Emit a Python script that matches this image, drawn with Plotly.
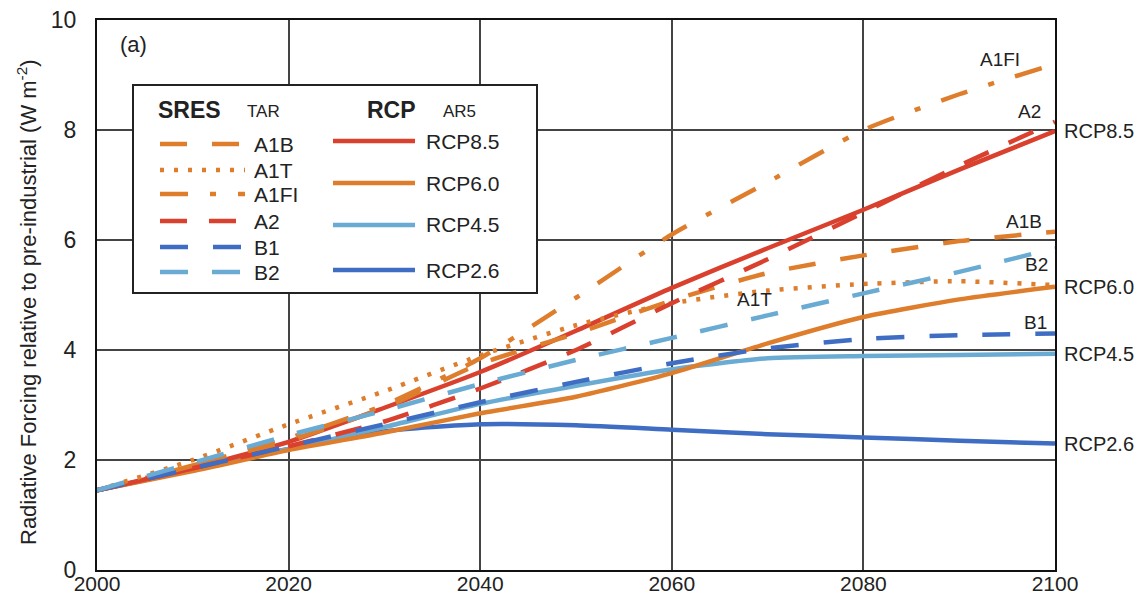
import plotly.graph_objects as go

years = [2000, 2010, 2020, 2030, 2040, 2050, 2060, 2070, 2080, 2090, 2100]

# SRES scenarios (TAR)
a1b  = [1.45, 1.90, 2.35, 2.95, 3.75, 4.30, 4.90, 5.40, 5.72, 5.98, 6.15]
a1t  = [1.45, 2.00, 2.65, 3.25, 3.90, 4.45, 4.85, 5.08, 5.20, 5.25, 5.18]
a1fi = [1.45, 1.90, 2.40, 3.00, 3.85, 4.95, 6.10, 7.05, 8.00, 8.65, 9.20]
a2   = [1.45, 1.85, 2.25, 2.70, 3.30, 4.00, 4.85, 5.65, 6.50, 7.35, 8.15]
b1   = [1.45, 1.85, 2.25, 2.65, 3.05, 3.42, 3.76, 4.03, 4.20, 4.27, 4.30]
b2   = [1.45, 1.95, 2.45, 2.90, 3.38, 3.82, 4.22, 4.63, 5.03, 5.42, 5.85]

# RCP scenarios (AR5)
rcp85 = [1.45, 1.85, 2.33, 2.95, 3.60, 4.35, 5.13, 5.85, 6.55, 7.28, 7.98]
rcp60 = [1.45, 1.80, 2.18, 2.50, 2.85, 3.15, 3.58, 4.12, 4.60, 4.92, 5.15]
rcp45 = [1.45, 1.82, 2.20, 2.60, 3.02, 3.35, 3.65, 3.85, 3.89, 3.91, 3.93]
rcp26 = [1.45, 1.82, 2.20, 2.52, 2.65, 2.63, 2.55, 2.47, 2.41, 2.35, 2.30]

sres_names = ["A1B", "A1T", "A1FI", "A2", "B1", "B2"]
rcp_names = ["RCP8.5", "RCP6.0", "RCP4.5", "RCP2.6"]
x_ticks = [2000, 2020, 2040, 2060, 2080, 2100]
y_ticks = [0, 2, 4, 6, 8, 10]

RED = "#d9402d"
ORANGE = "#de7d2c"
LBLUE = "#6aabd4"
DBLUE = "#3f6dc3"

LW = 4.5
dash_a1b = "27px,25px"
dash_a1t = "4px,10px"
dash_a1fi = "28px,22px,6px,22px"
dash_a2 = "27px,22px"
dash_b1 = "28px,25px"
dash_b2 = "28px,24px"

sres = [
    ("A1B", a1b, ORANGE, dash_a1b),
    ("A1T", a1t, ORANGE, dash_a1t),
    ("A1FI", a1fi, ORANGE, dash_a1fi),
    ("A2", a2, RED, dash_a2),
    ("B1", b1, DBLUE, dash_b1),
    ("B2", b2, LBLUE, dash_b2),
]
rcp = [
    ("RCP8.5", rcp85, RED),
    ("RCP6.0", rcp60, ORANGE),
    ("RCP4.5", rcp45, LBLUE),
    ("RCP2.6", rcp26, DBLUE),
]

fig = go.Figure()
for name, vals, col in rcp[::-1]:
    fig.add_trace(go.Scatter(x=years, y=vals, mode="lines", name=name,
                             line=dict(color=col, width=LW, shape="spline", smoothing=0.6),
                             showlegend=False))
for name, vals, col, dsh in sres:
    fig.add_trace(go.Scatter(x=years, y=vals, mode="lines", name=name,
                             line=dict(color=col, width=LW, dash=dsh, shape="spline", smoothing=0.6),
                             showlegend=False))

W, H = 1140, 594
L, R, T, B = 97, 1055, 20, 570


def px(x):
    return (x - L) / (R - L)


def py(y):
    return (B - y) / (B - T)


FONT = "Liberation Sans, Arial, sans-serif"
TXT = "#222222"
shapes = []
ann = []

# Legend box
shapes.append(dict(type="rect", xref="paper", yref="paper",
                   x0=px(133), x1=px(537), y0=py(293), y1=py(85),
                   line=dict(color="#222222", width=2), fillcolor="white", layer="above"))
ann.append(dict(x=px(156), y=py(110), xref="paper", yref="paper", xanchor="left", yanchor="middle",
                text="<b>SRES</b>", showarrow=False, font=dict(size=23, color=TXT, family=FONT)))
ann.append(dict(x=px(245), y=py(112), xref="paper", yref="paper", xanchor="left", yanchor="middle",
                text="TAR", showarrow=False, font=dict(size=17, color=TXT, family=FONT)))
ann.append(dict(x=px(365), y=py(110), xref="paper", yref="paper", xanchor="left", yanchor="middle",
                text="<b>RCP</b>", showarrow=False, font=dict(size=23, color=TXT, family=FONT)))
ann.append(dict(x=px(441), y=py(112), xref="paper", yref="paper", xanchor="left", yanchor="middle",
                text="AR5", showarrow=False, font=dict(size=17, color=TXT, family=FONT)))

sres_leg_y = [144, 170, 194, 221, 247, 272]
for (name, vals, col, dsh), yy in zip(sres, sres_leg_y):
    shapes.append(dict(type="line", xref="paper", yref="paper",
                       x0=px(160), x1=px(245), y0=py(yy), y1=py(yy),
                       line=dict(color=col, width=LW, dash=dsh), layer="above"))
    ann.append(dict(x=px(252), y=py(yy), xref="paper", yref="paper", xanchor="left", yanchor="middle",
                    text=name, showarrow=False, font=dict(size=21, color=TXT, family=FONT)))

rcp_leg_y = [141, 183, 225, 270]
for (name, vals, col), yy in zip(rcp, rcp_leg_y):
    shapes.append(dict(type="line", xref="paper", yref="paper",
                       x0=px(333), x1=px(415), y0=py(yy), y1=py(yy),
                       line=dict(color=col, width=LW), layer="above"))
    ann.append(dict(x=px(424), y=py(yy), xref="paper", yref="paper", xanchor="left", yanchor="middle",
                    text=name, showarrow=False, font=dict(size=21, color=TXT, family=FONT)))

# Panel label
ann.append(dict(x=px(118), y=py(45), xref="paper", yref="paper", xanchor="left", yanchor="middle",
                text="(a)", showarrow=False, font=dict(size=22, color=TXT, family=FONT)))

# Right-side RCP labels
for (name, vals, col) in rcp:
    ann.append(dict(x=px(1062), y=vals[-1], xref="paper", yref="y", xanchor="left", yanchor="middle",
                    text=name, showarrow=False, font=dict(size=20, color=TXT, family=FONT)))

# Inline SRES labels
inline = [("A1FI", 1000, 59), ("A2", 1029, 112), ("A1B", 1024, 221), ("B2", 1036, 264),
          ("A1T", 754, 300), ("B1", 1035, 322)]
for name, xx, yy in inline:
    ann.append(dict(x=px(xx), y=py(yy), xref="paper", yref="paper", xanchor="center", yanchor="middle",
                    text=name, showarrow=False, font=dict(size=19, color=TXT, family=FONT)))

# Y-axis title
ann.append(dict(x=px(27), y=py(302), xref="paper", yref="paper", xanchor="center", yanchor="middle",
                textangle=-90, text="Radiative Forcing relative to pre-industrial (W m<sup>-2</sup>)",
                showarrow=False, font=dict(size=22, color=TXT, family=FONT)))

fig.update_layout(
    width=W, height=H,
    margin=dict(l=L, r=W - R, t=T, b=H - B, pad=0),
    plot_bgcolor="white", paper_bgcolor="white",
    shapes=shapes, annotations=ann,
    font=dict(family=FONT, color=TXT),
)
fig.update_xaxes(range=[2000, 2100], tickvals=x_ticks, ticktext=[str(v) for v in x_ticks],
                 showgrid=True, gridcolor="#444444", gridwidth=1.5, automargin=False,
                 showline=True, linecolor="#111111", linewidth=2, mirror=True,
                 ticks="", tickfont=dict(size=21, color=TXT, family=FONT), zeroline=False,
                 ticklabelstandoff=-6)
fig.update_yaxes(range=[0, 10], tickvals=y_ticks, ticktext=[str(v) for v in y_ticks],
                 showgrid=True, gridcolor="#444444", gridwidth=1.5, automargin=False,
                 showline=True, linecolor="#111111", linewidth=2, mirror=True,
                 ticks="", tickfont=dict(size=23, color=TXT, family=FONT), zeroline=False,
                 ticklabelstandoff=14)

fig.write_html("out.html")
